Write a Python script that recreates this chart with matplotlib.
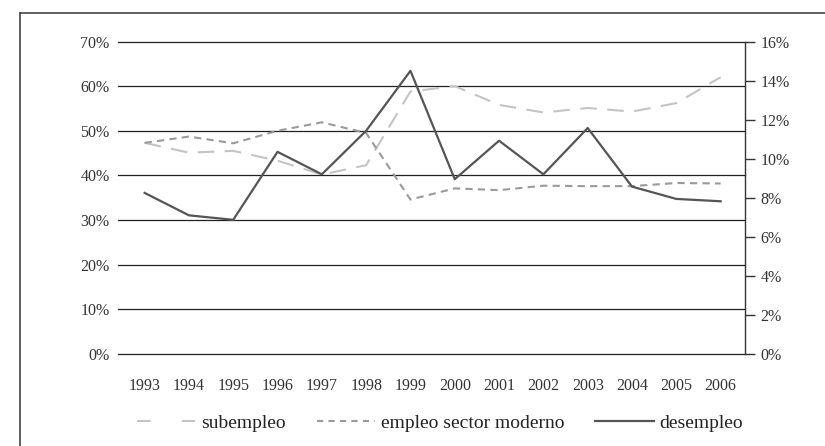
import matplotlib.pyplot as plt
from matplotlib.lines import Line2D
from matplotlib.ticker import FuncFormatter

years = list(range(1993, 2007))
subempleo = [47.3, 45.1, 45.5, 43.3, 40.2, 42.3, 58.8, 60.0, 55.8, 54.1, 55.1, 54.3, 56.2, 62.0]
empleo_moderno = [47.3, 48.7, 47.2, 50.0, 51.9, 49.5, 34.6, 37.1, 36.7, 37.7, 37.6, 37.6, 38.3, 38.2]
desempleo = [8.25, 7.1, 6.87, 10.35, 9.2, 11.43, 14.5, 8.95, 10.92, 9.2, 11.57, 8.57, 7.94, 7.82]

left_ticks = [0, 10, 20, 30, 40, 50, 60, 70]
right_ticks = [0, 2, 4, 6, 8, 10, 12, 14, 16]

plt.rcParams['font.family'] = ['Liberation Serif', 'DejaVu Serif']

fig = plt.figure(figsize=(8.25, 4.46), dpi=100)
# outer frame (left and top edges visible)
fig.add_artist(plt.Line2D([20/825, 20/825], [0, 1 - 12.5/446], color='#444444', lw=1.2))
fig.add_artist(plt.Line2D([20/825, 1], [1 - 12.5/446, 1 - 12.5/446], color='#444444', lw=1.2))

ax = fig.add_axes([118/825, 1 - 354/446, (745 - 118)/825, (354 - 41.5)/446])
ax2 = ax.twinx()

for t in left_ticks:
    ax.axhline(t, color='#222222', lw=0.9, zorder=1, clip_on=False)

ax.plot(years, subempleo, color='#c4c4c4', lw=1.5, dashes=(8, 5), zorder=3)
ax.plot(years, empleo_moderno, color='#9a9a9a', lw=1.5, dashes=(3.5, 2.5), zorder=3)
ax2.plot(years, desempleo, color='#555555', lw=1.6, zorder=4)

ax.set_ylim(0, 70)
ax2.set_ylim(0, 16)
ax.set_xlim(1992.4, 2006.55)
ax.set_yticks(left_ticks)
ax2.set_yticks(right_ticks)
ax.yaxis.set_major_formatter(FuncFormatter(lambda v, p: '%d%%' % v))
ax2.yaxis.set_major_formatter(FuncFormatter(lambda v, p: '%d%%' % v))
ax.set_xticks(years)
ax.set_xticklabels([str(y) for y in years])

for a in (ax, ax2):
    for s in ['top', 'left', 'bottom']:
        a.spines[s].set_visible(False)
ax.spines['right'].set_visible(False)
ax2.spines['right'].set_color('#333333')
ax2.spines['right'].set_linewidth(1.0)

ax.tick_params(axis='y', length=0, pad=6, labelsize=11.5, labelcolor='#333333')
ax.tick_params(axis='x', length=0, pad=17, labelsize=11.5, labelcolor='#333333')
ax2.tick_params(axis='y', length=7, width=1.0, color='#333333', pad=4, labelsize=11.5, labelcolor='#333333')

# legend proxies
h1 = Line2D([], [], color='#c4c4c4', lw=1.5, dashes=(6.5, 15))
h2 = Line2D([], [], color='#9a9a9a', lw=1.5, dashes=(3, 2.5))
h3 = Line2D([], [], color='#555555', lw=1.6)
fig.legend([h1, h2, h3], ['subempleo', 'empleo sector moderno', 'desempleo'],
           loc='center', bbox_to_anchor=(440/825, 1 - 423/446), ncol=3, frameon=False,
           fontsize=14, handlelength=3.0, handletextpad=0.3, columnspacing=1.6,
           labelcolor='#222222')

fig.savefig('out.png', dpi=100)
